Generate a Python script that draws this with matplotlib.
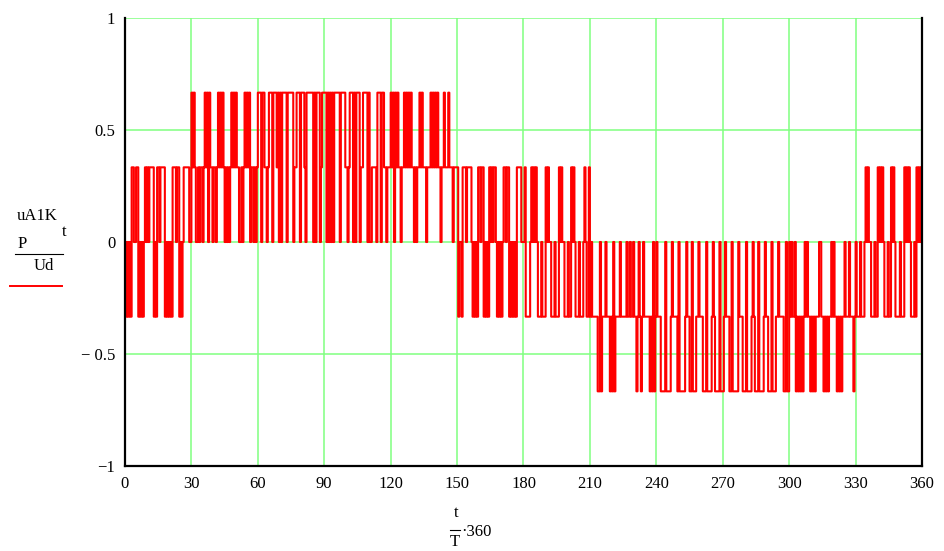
import numpy as np
import matplotlib.pyplot as plt

plt.rcParams['font.family'] = ['Liberation Serif', 'DejaVu Serif']

# switching level, one char per half degree, one string per 30 deg sector
# code: 0 = -2/3, 1 = -1/3, 2 = 0, 3 = 1/3, 4 = 2/3
sectors = [
    "212121 332233 121212 3232 3333 121 3323333 1212121 333233 121 233333 22",       # 0-30
    "43432232 3323 434243 323323 434343 232323 434343 322323 434342 332323",         # 30-60
    "444244 3323 444244 4342 42444424 444423 344424 443244 444424 24442344",         # 60-90
    "4424 242424 4444244443 3234 44242444 2334 444242 233332 444244 332333",         # 90-120
    "4342434 33233 4343434 3323233 434 3332333 43434343 3233 433343 332333",         # 120-150
    "312213 3323333 212121 33233 12121 32323 32 121212 33233 1212121 3333 22",       # 150-180
    "2311 11 232323 21112111 3232 21112111 3232 2111211 3232 1112111 23 2113",       # 180-210
    "1211 1110 0201 112111 010201 1112111112 11211211 01210 1211111 010201",         # 210-240
    "2111 000020000 121111 0200000 1211 002000 112111 00020000 121 0000200",         # 240-270
    "012111 00200000 2111 00020000 121 00020000 121 10002000 112111 100200",         # 270-300
    "212112 0101010 121211 010101 112211 010101 121211 010101 121112111 01",         # 300-330
    "21112111 23232 2111211 32323 2111211 3232 11112111 32323 211121 32323",         # 330-360
]

x_ticks = [0, 30, 60, 90, 120, 150, 180, 210, 240, 270, 300, 330, 360]
y_ticks = [-1, -0.5, 0, 0.5, 1]
y_labels = ["\u22121", "\u2212 0.5", "0", "0.5", "1"]

codes = "".join(s.replace(" ", "") for s in sectors)
levels = (np.array([int(c) for c in codes]) - 2) / 3
angle = np.arange(len(levels)) * 0.5
angle = np.append(angle, 360)
levels = np.append(levels, levels[-1])

W, H = 945, 551
fig = plt.figure(figsize=(W / 100, H / 100), dpi=100)


def px(x, y):
    return x / W, 1 - y / H


left, right, top, bottom = 125, 922, 18, 466
ax = fig.add_axes([left / W, 1 - bottom / H, (right - left) / W, (bottom - top) / H])

ax.plot(angle, levels, color='#ff0000', lw=1.5, drawstyle='steps-post')

ax.set_xlim(0, 360)
ax.set_ylim(-1, 1)
ax.set_xticks(x_ticks)
ax.set_yticks(y_ticks)
ax.set_yticklabels(y_labels)
ax.grid(color='#80ff80', lw=1.1)
ax.set_axisbelow(True)
ax.tick_params(length=0, labelsize=12, pad=7)

for side in ['left', 'bottom', 'right']:
    ax.spines[side].set_linewidth(1.6)
    ax.spines[side].set_color('black')
ax.spines['top'].set_visible(False)

# y axis label (Mathcad style fraction)
fig.text(*px(37, 216), "uA1K", fontsize=12, ha='center', va='center')
fig.text(*px(64, 232), "t", fontsize=12, ha='center', va='center')
fig.text(*px(22, 244), "P", fontsize=12, ha='center', va='center')
fig.add_artist(plt.Line2D([15 / W, 63 / W], [1 - 254 / H, 1 - 254 / H], color='black', lw=0.8))
fig.text(*px(44, 266), "Ud", fontsize=12, ha='center', va='center')
fig.add_artist(plt.Line2D([10 / W, 62 / W], [1 - 286 / H, 1 - 286 / H], color='#ff0000', lw=1.4))

# x axis label
fig.text(*px(456, 513), "t", fontsize=12, ha='center', va='center')
fig.add_artist(plt.Line2D([450 / W, 460 / W], [1 - 530 / H, 1 - 530 / H], color='black', lw=0.8))
fig.text(*px(455, 542), "T", fontsize=12, ha='center', va='center')
fig.text(*px(476, 532), "\u00b7360", fontsize=12, ha='center', va='center')

fig.savefig("out.png", dpi=100, facecolor='white')
